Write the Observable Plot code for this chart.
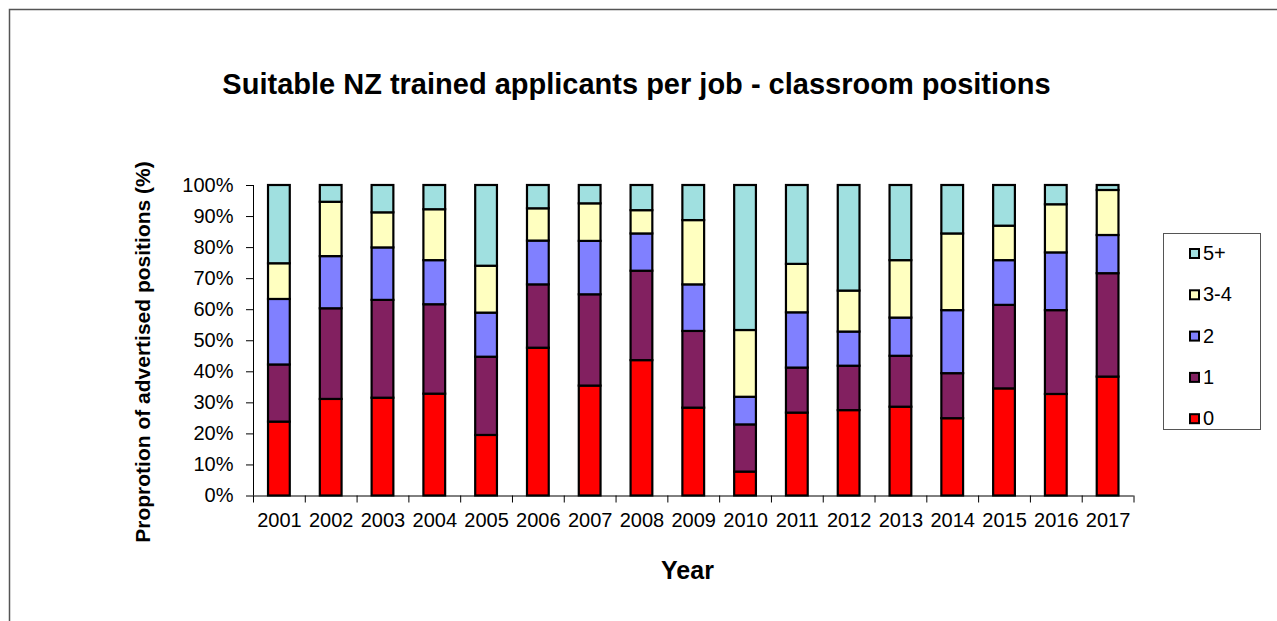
<!DOCTYPE html>
<html>
<head>
<meta charset="utf-8">
<script src="https://cdn.jsdelivr.net/npm/d3@7"></script>
<script src="https://cdn.jsdelivr.net/npm/@observablehq/plot@0.6"></script>
<style>
  html, body { margin: 0; padding: 0; background: #fff; }
  #chart { width: 1277px; height: 621px; overflow: hidden; }
</style>
</head>
<body>
<div id="chart"></div>
<script>
// ---- Data (percent of advertised positions) ----
const years = [2001, 2002, 2003, 2004, 2005, 2006, 2007, 2008, 2009, 2010, 2011, 2012, 2013, 2014, 2015, 2016, 2017];
const categories = ["0", "1", "2", "3-4", "5+"];
const s0   = [23.8, 31.1, 31.5, 32.8, 19.5, 47.6, 35.4, 43.6, 28.3, 7.7, 26.7, 27.5, 28.6, 24.9, 34.5, 32.7, 38.3];
const s1   = [18.4, 29.2, 31.5, 28.8, 25.2, 20.4, 29.4, 28.8, 24.7, 15.2, 14.5, 14.3, 16.4, 14.5, 26.9, 27.0, 33.3];
const s2   = [21.1, 16.8, 16.9, 14.2, 14.2, 14.1, 17.2, 12.0, 15.0, 8.9, 17.8, 11.0, 12.3, 20.3, 14.4, 18.6, 12.3];
const s34  = [11.5, 17.5, 11.3, 16.4, 15.1, 10.4, 12.1, 7.5, 20.7, 21.5, 15.6, 13.2, 18.5, 24.7, 11.1, 15.5, 14.5];
const s5p  = [25.2, 5.4, 8.8, 7.8, 26.0, 7.5, 5.9, 8.1, 11.3, 46.7, 25.4, 34.0, 24.2, 15.6, 13.1, 6.2, 1.6];
const yTicks = [0, 0.1, 0.2, 0.3, 0.4, 0.5, 0.6, 0.7, 0.8, 0.9, 1.0];
const colors = ["#FF0000", "#822060", "#8080FF", "#FFFFC0", "#A0E0E0"];

const titleText = "Suitable NZ trained applicants per job - classroom positions";
const xTitle = "Year";
const yTitle = "Proprotion of advertised positions (%)";

// ---- Build stacked rows ----
const series = [s0, s1, s2, s34, s5p];
const rows = [];
years.forEach((yr, i) => {
  let base = 0;
  series.forEach((s, k) => {
    const v = s[i] / 100;
    rows.push({year: yr, cat: categories[k], y1: base, y2: base + v});
    base += v;
  });
});
const boundaries = [...years.map(y => y - 0.5), years[years.length - 1] + 0.5];
const half = 0.21;

const W = 1277, H = 621;
const plot = Plot.plot({
  width: W,
  height: H,
  marginLeft: 253,
  marginRight: 143.5,
  marginTop: 185,
  marginBottom: 125.5,
  style: {fontFamily: "'Liberation Sans', Arial, sans-serif", fontSize: "20px", color: "#000", background: "#fff"},
  x: {domain: [years[0] - 0.5, years[years.length - 1] + 0.5], label: null},
  y: {domain: [0, 1], label: null},
  color: {domain: categories, range: colors},
  marks: [
    Plot.rectY(rows, {
      x1: d => d.year - half, x2: d => d.year + half,
      y1: "y1", y2: "y2",
      fill: "cat", stroke: "#000", strokeWidth: 2.2
    }),
    Plot.ruleX([years[0] - 0.5], {stroke: "#000", strokeWidth: 1}),
    Plot.ruleY([0], {stroke: "#000", strokeWidth: 1}),
    Plot.axisY({ticks: yTicks, tickFormat: d3.format(".0%"), tickSize: 7, tickPadding: 13, fontSize: 20, label: null, stroke: "#000"}),
    Plot.axisX({ticks: boundaries, tickFormat: () => "", tickSize: 7, label: null, stroke: "#000"}),
    Plot.axisX({ticks: years, tickFormat: d => String(d), tickSize: 0, tickPadding: 17, fontSize: 20, label: null})
  ]
});

const svg = d3.select(plot);
svg.style("overflow", "hidden");

// outer chart-area border (top and left visible)
svg.insert("rect", ":first-child")
  .attr("x", 9.5).attr("y", 9.5).attr("width", W + 20).attr("height", H + 20)
  .attr("fill", "none").attr("stroke", "#555").attr("stroke-width", 1.5);

// title
svg.append("text")
  .attr("x", 636.5).attr("y", 94)
  .attr("text-anchor", "middle")
  .attr("font-size", 29).attr("font-weight", "bold")
  .attr("fill", "#000")
  .text(titleText);

// x title
svg.append("text")
  .attr("x", 687.5).attr("y", 579)
  .attr("text-anchor", "middle")
  .attr("font-size", 25).attr("font-weight", "bold")
  .attr("fill", "#000")
  .text(xTitle);

// y title
svg.append("text")
  .attr("transform", "translate(150,352) rotate(-90)")
  .attr("text-anchor", "middle")
  .attr("font-size", 21).attr("font-weight", "bold")
  .attr("fill", "#000")
  .text(yTitle);

// legend
const color = plot.scale("color");
const lg = svg.append("g").attr("text-anchor", "start");
lg.append("rect")
  .attr("x", 1163.5).attr("y", 233.5).attr("width", 97).attr("height", 196)
  .attr("fill", "#fff").attr("stroke", "#555").attr("stroke-width", 1);
const legendOrder = color.domain.slice().reverse();
legendOrder.forEach((c, i) => {
  const base = 260 + i * 41.3;
  const idx = color.domain.indexOf(c);
  lg.append("rect")
    .attr("x", 1190).attr("y", base - 11).attr("width", 9).attr("height", 9)
    .attr("fill", color.range[idx]).attr("stroke", "#000").attr("stroke-width", 2);
  lg.append("text")
    .attr("x", 1203).attr("y", base)
    .attr("text-anchor", "start")
    .attr("font-size", 20).attr("fill", "#000")
    .text(c);
});

document.getElementById("chart").appendChild(plot);
</script>
</body>
</html>
